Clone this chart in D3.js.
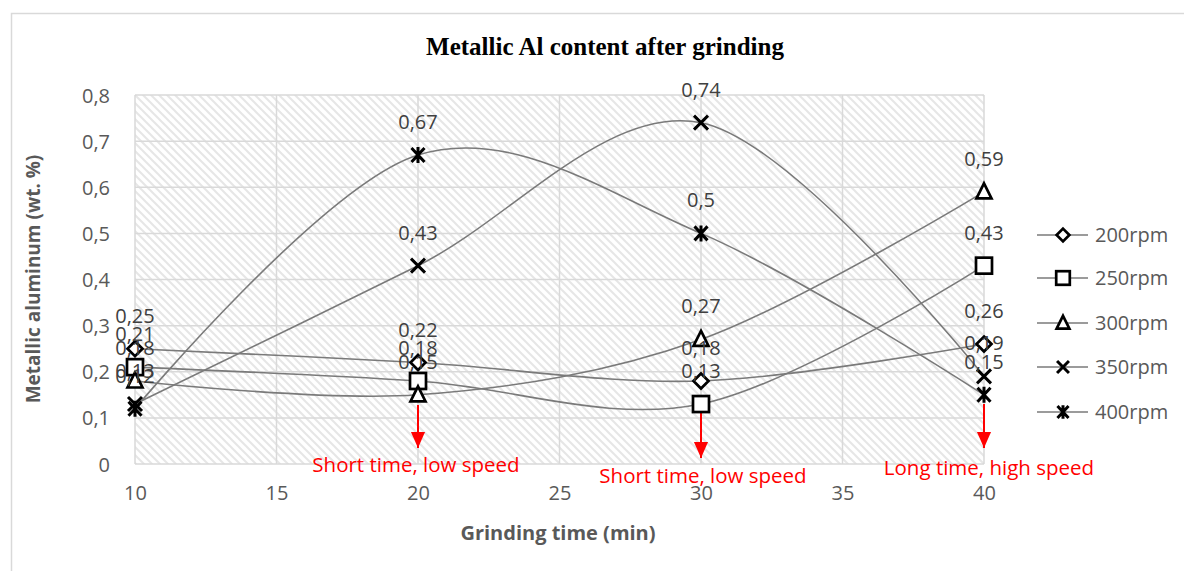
<!DOCTYPE html>
<html>
<head>
<meta charset="utf-8">
<script src="https://cdn.jsdelivr.net/npm/d3@7"></script>
<style>
  html, body { margin: 0; padding: 0; background: #fff; }
  svg { display: block; }
  text { font-family: "Open Sans", "Noto Sans", sans-serif; }
</style>
</head>
<body>
<svg id="chart" width="1184" height="571"></svg>
<script>
// Grinding time (min)
const times = [10, 20, 30, 40];
const seriesNames = ["200rpm", "250rpm", "300rpm", "350rpm", "400rpm"];
const markerKinds = ["diamond", "square", "triangle", "cross", "star"];
// Metallic aluminium content (wt. %) per rotation speed
const v200 = [0.25, 0.22, 0.18, 0.26];
const v250 = [0.21, 0.18, 0.13, 0.43];
const v300 = [0.18, 0.15, 0.27, 0.59];
const v350 = [0.13, 0.43, 0.74, 0.19];
const v400 = [0.12, 0.67, 0.50, 0.15];
const xTicks = [10, 15, 20, 25, 30, 35, 40];
const yTicks = [0, 0.1, 0.2, 0.3, 0.4, 0.5, 0.6, 0.7, 0.8];
// Red call-outs: time and text
const notes = [
  {t: 20, text: "Short time, low speed"},
  {t: 30, text: "Short time, low speed"},
  {t: 40, text: "Long time, high speed"}
];

const allSeries = [v200, v250, v300, v350, v400];

const svg = d3.select("#chart");
const fmt = v => String(v).replace(".", ",");

// outer chart border
svg.append("rect").attr("x", 11.5).attr("y", 13.5).attr("width", 1200).attr("height", 600)
  .attr("fill", "#fff").attr("stroke", "#d9d9d9").attr("stroke-width", 1.5);

const x = d3.scaleLinear().domain([10, 40]).range([135, 984]);
const y = d3.scaleLinear().domain([0, 0.8]).range([464, 95]);

// hatched plot area
const defs = svg.append("defs");
const pat = defs.append("pattern").attr("id", "hatch").attr("patternUnits", "userSpaceOnUse")
  .attr("width", 8).attr("height", 8);
pat.append("rect").attr("width", 8).attr("height", 8).attr("fill", "#fff");
pat.append("path").attr("d", "M-2,-2L10,10M-2,6L2,10M6,-2L10,2")
  .attr("stroke", "#e6e6e6").attr("stroke-width", 2);

svg.append("rect").attr("x", x(10)).attr("y", y(0.8))
  .attr("width", x(40) - x(10)).attr("height", y(0) - y(0.8)).attr("fill", "url(#hatch)");

// gridlines
const grid = svg.append("g");
grid.selectAll(".hg").data(yTicks).join("line")
  .attr("x1", x(10)).attr("x2", x(40)).attr("y1", d => y(d)).attr("y2", d => y(d))
  .attr("stroke", "#d9d9d9").attr("stroke-width", 1.5);
grid.selectAll(".vg").data(xTicks).join("line")
  .attr("y1", y(0)).attr("y2", y(0.8)).attr("x1", d => x(d)).attr("x2", d => x(d))
  .attr("stroke", "#d9d9d9").attr("stroke-width", 1.5);

// axes (labels only)
const yAxis = svg.append("g").attr("transform", `translate(${x(10) - 22},0)`)
  .call(d3.axisLeft(y).tickValues(yTicks).tickFormat(fmt).tickSize(0));
yAxis.select(".domain").remove();
yAxis.selectAll("text").attr("fill", "#595959").style("font-size", "20px")
  .attr("font-family", "Open Sans, sans-serif").attr("dy", "0.35em");

const xAxis = svg.append("g").attr("transform", `translate(0,${y(0) + 19})`)
  .call(d3.axisBottom(x).tickValues(xTicks).tickFormat(d3.format("d")).tickSize(0));
xAxis.select(".domain").remove();
xAxis.selectAll("text").attr("fill", "#595959").style("font-size", "20px")
  .attr("font-family", "Open Sans, sans-serif").attr("dy", "0.71em");

// titles
svg.append("text").attr("x", 605).attr("y", 55).attr("text-anchor", "middle")
  .style("font-family", "'Liberation Serif', 'DejaVu Serif', serif")
  .style("font-weight", "bold").style("font-size", "25px").attr("fill", "#000")
  .text("Metallic Al content after grinding");
svg.append("text").attr("transform", "translate(40,279) rotate(-90)").attr("text-anchor", "middle")
  .style("font-weight", "bold").style("font-size", "19px").attr("fill", "#595959")
  .text("Metallic aluminum (wt. %)");
svg.append("text").attr("x", 558).attr("y", 540).attr("text-anchor", "middle")
  .style("font-weight", "bold").style("font-size", "20px").attr("fill", "#595959")
  .text("Grinding time (min)");

// marker shapes
function marker(g, kind, k) {
  const s = "#000", w = 2.7;
  k = k || 1;
  if (kind === "diamond") g.append("path").attr("d", `M0,${-7.5*k}L${7.5*k},0L0,${7.5*k}L${-7.5*k},0Z`).attr("fill", "#fff").attr("stroke", s).attr("stroke-width", w);
  if (kind === "square") g.append("rect").attr("x", -8 * k).attr("y", -8 * k).attr("width", 16 * k).attr("height", 16 * k).attr("fill", "#fff").attr("stroke", s).attr("stroke-width", w);
  if (kind === "triangle") g.append("path").attr("d", `M0,${-8.5*k}L${7.5*k},${6.5*k}L${-7.5*k},${6.5*k}Z`).attr("fill", "#fff").attr("stroke", s).attr("stroke-width", w);
  if (kind === "cross") g.append("path").attr("d", `M${-7*k},${-7*k}L${7*k},${7*k}M${-7*k},${7*k}L${7*k},${-7*k}`).attr("stroke", s).attr("stroke-width", 3);
  if (kind === "star") g.append("path").attr("d", `M${-6.5*k},${-7*k}L${6.5*k},${7*k}M${-6.5*k},${7*k}L${6.5*k},${-7*k}M0,${-8*k}L0,${8*k}`).attr("stroke", s).attr("stroke-width", 3);
}

const line = d3.line().x((d, i) => x(times[i])).y(d => y(d)).curve(d3.curveCardinal.tension(0));

allSeries.forEach(vals => {
  svg.append("path").attr("d", line(vals)).attr("fill", "none")
    .attr("stroke", "#7a7a7a").attr("stroke-width", 1.6);
});

// red arrows and notes
const arrowDef = defs.append("marker").attr("id", "arr").attr("viewBox", "0 0 10 10")
  .attr("refX", 10).attr("refY", 5).attr("markerUnits", "userSpaceOnUse")
  .attr("markerWidth", 16).attr("markerHeight", 16).attr("orient", "auto");
arrowDef.append("path").attr("d", "M0,0.6L10,5L0,9.4Z").attr("fill", "#ff0000");

const noteY = [{top: 405, tip: 448, base: 472}, {top: 413, tip: 458, base: 483}, {top: 404, tip: 448, base: 475}];
notes.forEach((n, i) => {
  const cx = x(n.t);
  svg.append("line").attr("x1", cx).attr("x2", cx).attr("y1", noteY[i].top).attr("y2", noteY[i].tip)
    .attr("stroke", "#ff0000").attr("stroke-width", 2).attr("marker-end", "url(#arr)");
});

allSeries.forEach((vals, si) => {
  vals.forEach((v, i) => {
    const g = svg.append("g").attr("transform", `translate(${x(times[i])},${y(v)})`);
    marker(g, markerKinds[si], 1);
  });
});

// data labels
allSeries.forEach(vals => {
  vals.forEach((v, i) => {
    svg.append("text").attr("x", x(times[i])).attr("y", y(v) - 26).attr("text-anchor", "middle")
      .attr("fill", "#404040").style("font-size", "20px").text(fmt(v));
  });
});

const noteX = [416, 703, 989];
notes.forEach((n, i) => {
  svg.append("text").attr("x", noteX[i]).attr("y", noteY[i].base).attr("text-anchor", "middle")
    .attr("fill", "#ff0000").style("font-size", "20.5px").text(n.text);
});

// legend
const legY = [235, 278, 323, 367, 412];
seriesNames.forEach((name, i) => {
  const g = svg.append("g").attr("transform", `translate(0,${legY[i]})`);
  g.append("line").attr("x1", 1037).attr("x2", 1088).attr("stroke", "#7a7a7a").attr("stroke-width", 1.6);
  const m = g.append("g").attr("transform", "translate(1063,0)");
  marker(m, markerKinds[i], 0.85);
  g.append("text").attr("x", 1095).attr("dy", "0.35em").attr("fill", "#595959")
    .style("font-size", "20px").text(name);
});
</script>
</body>
</html>
